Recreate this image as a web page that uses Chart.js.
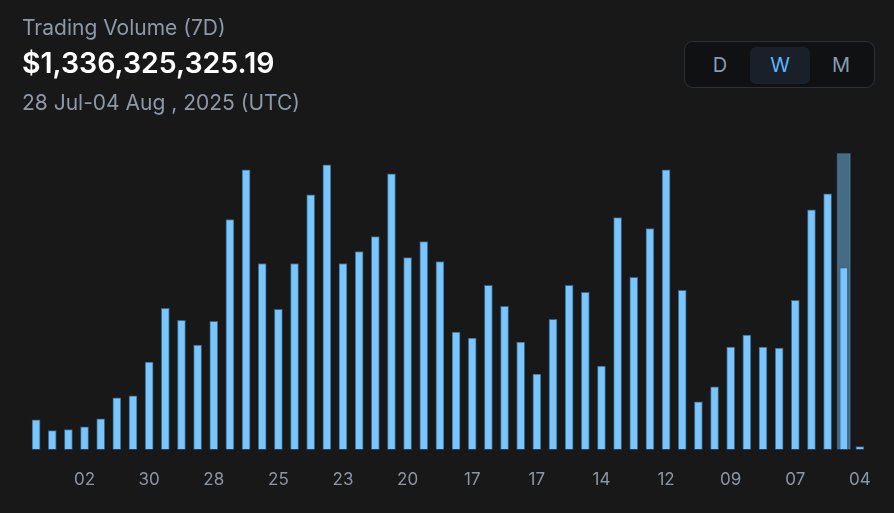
<!DOCTYPE html>
<html>
<head>
<meta charset="utf-8">
<script src="https://cdn.jsdelivr.net/npm/chart.js@4/dist/chart.umd.min.js"></script>
<style>
  html, body { margin: 0; padding: 0; background: #181818; }
  body { width: 894px; height: 513px; position: relative; overflow: hidden; font-family: Inter, "Noto Sans", sans-serif; }
  #wrap { position: absolute; left: 0; top: 0; width: 894px; height: 513px; }
  .t { position: absolute; left: 22px; white-space: nowrap; }
  #title { top: 17px; font-size: 21px; line-height: 21px; color: #8d99a9; }
  #value { top: 49px; font-size: 28.5px; line-height: 28px; color: #ffffff; font-weight: 600; }
  #range { top: 92px; font-size: 21px; line-height: 21px; color: #8d99a9; }
  #seg { position: absolute; left: 684px; top: 41px; width: 189px; height: 45px; border: 1px solid #2c3137; border-radius: 9px; background: #101112; }
  .b { position: absolute; top: 5px; width: 60px; height: 37px; border-radius: 6px; font-size: 20px; line-height: 37px; text-align: center; color: #8a9bb0; }
  .b.on { background: #19202a; color: #5cb6f7; }
</style>
</head>
<body>
<div id="wrap"><canvas id="c" width="894" height="513"></canvas></div>
<div class="t" id="title">Trading Volume (7D)</div>
<div class="t" id="value">$1,336,325,325.19</div>
<div class="t" id="range">28 Jul-04 Aug , 2025 (UTC)</div>
<div id="seg">
  <div class="b" style="left:5px">D</div>
  <div class="b on" style="left:65px">W</div>
  <div class="b" style="left:126px">M</div>
</div>
<script>
// Volume bars (relative units), oldest to newest
const volumes = [30, 19, 20, 23, 31, 52, 54, 88, 142, 130, 105, 129, 231,
  281, 187, 141, 187, 256, 286, 187, 199, 214, 277, 193, 209, 189,
  118, 112, 165, 144, 108, 76, 131, 165, 158, 84, 233, 173, 222,
  281, 160, 48, 63, 103, 115, 103, 102, 150, 241, 257, 183, 3];
// Tick labels shown on every 4th bar (starting at the 4th)
const tickLabels = ["02", "30", "28", "25", "23", "20", "17", "17", "14", "12", "09", "07", "04"];
const highlightIndex = 50;
const yMax = 298;

const categories = volumes.map((v, i) => (i % 4 === 3) ? tickLabels[(i - 3) / 4] : "");
const highlight = volumes.map((v, i) => i === highlightIndex ? yMax : null);

new Chart(document.getElementById('c'), {
  type: 'bar',
  data: {
    labels: categories,
    datasets: [
      {
        data: volumes,
        backgroundColor: '#78c6fd',
        borderColor: '#3a6283',
        borderWidth: 1,
        borderSkipped: false,
        barThickness: 8,
        order: 1
      },
      {
        data: highlight,
        backgroundColor: 'rgba(120,198,253,0.48)',
        borderColor: '#2a3d4e',
        borderWidth: 1,
        borderSkipped: false,
        barThickness: 14,
        grouped: false,
        order: 2
      }
    ]
  },
  options: {
    responsive: false,
    animation: false,
    events: [],
    layout: { padding: { left: 28, right: 26, top: 153, bottom: 2 } },
    plugins: { legend: { display: false }, tooltip: { enabled: false } },
    scales: {
      x: {
        grid: { display: false, drawTicks: false },
        border: { display: false },
        ticks: {
          autoSkip: false, maxRotation: 0, minRotation: 0,
          padding: 20.5,
          color: '#8b96a5',
          font: { family: 'Inter', size: 17 }
        }
      },
      y: {
        display: false,
        min: 0,
        max: yMax
      }
    }
  }
});
</script>
</body>
</html>
